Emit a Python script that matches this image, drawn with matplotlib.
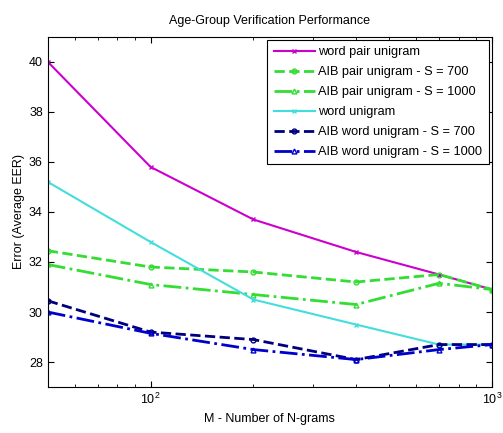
import matplotlib
matplotlib.use("Agg")
import matplotlib.pyplot as plt
from matplotlib.ticker import LogLocator, NullFormatter

plt.rcParams['font.family'] = ['Liberation Sans', 'DejaVu Sans']

M = [50, 100, 200, 400, 700, 1000]
word_pair = [40.0, 35.8, 33.7, 32.4, 31.5, 30.9]
aib_pair_700 = [32.45, 31.8, 31.6, 31.2, 31.5, 30.9]
aib_pair_1000 = [31.9, 31.1, 30.7, 30.3, 31.15, 30.9]
word_uni = [35.2, 32.8, 30.5, 29.5, 28.7, 28.7]
aib_word_700 = [30.45, 29.2, 28.9, 28.1, 28.7, 28.7]
aib_word_1000 = [30.0, 29.15, 28.5, 28.1, 28.5, 28.7]

labels = ["word pair unigram", "AIB pair unigram - S = 700", "AIB pair unigram - S = 1000",
          "word unigram", "AIB word unigram - S = 700", "AIB word unigram - S = 1000"]

fig = plt.figure(figsize=(5.03, 4.33), dpi=100)
ax = fig.add_axes([0.095, 0.106, 0.883, 0.809])

ax.plot(M, word_pair, color='#CC00CC', ls='-', marker='x', ms=3.5, lw=1.5, label=labels[0])
ax.plot(M, aib_pair_700, color='#33DD33', ls='--', marker='o', ms=3.5, mfc='none', lw=2, label=labels[1])
ax.plot(M, aib_pair_1000, color='#33DD33', ls='-.', marker='^', ms=3.5, mfc='none', lw=2, label=labels[2])
ax.plot(M, word_uni, color='#44DDDD', ls='-', marker='x', ms=3.5, lw=1.5, label=labels[3])
ax.plot(M, aib_word_700, color='#00007F', ls='--', marker='o', ms=3.5, mfc='none', lw=2, label=labels[4])
ax.plot(M, aib_word_1000, color='#0000CC', ls='-.', marker='^', ms=3.5, mfc='none', lw=2, label=labels[5])

ax.set_xscale('log')
ax.set_xlim(50, 1000)
ax.set_ylim(27, 41)
ax.set_yticks([28, 30, 32, 34, 36, 38, 40])
ax.xaxis.set_minor_locator(LogLocator(base=10, subs=range(2, 10)))
ax.xaxis.set_minor_formatter(NullFormatter())
ax.tick_params(which='both', direction='in', top=True, right=True, labelsize=9)
ax.tick_params(which='major', length=4)
ax.tick_params(which='minor', length=2)

ax.set_title("Age-Group Verification Performance", fontsize=9, pad=9)
ax.set_xlabel("M - Number of N-grams", fontsize=9)
ax.set_ylabel("Error (Average EER)", fontsize=9, labelpad=3)

leg = ax.legend(loc='upper right', fontsize=9.2, fancybox=False, edgecolor='black',
                framealpha=1, borderaxespad=0.25, handlelength=3.2, numpoints=1,
                labelspacing=0.62, handletextpad=0.3, borderpad=0.5)
leg.get_frame().set_linewidth(0.8)

fig.savefig("out.png", dpi=100)
